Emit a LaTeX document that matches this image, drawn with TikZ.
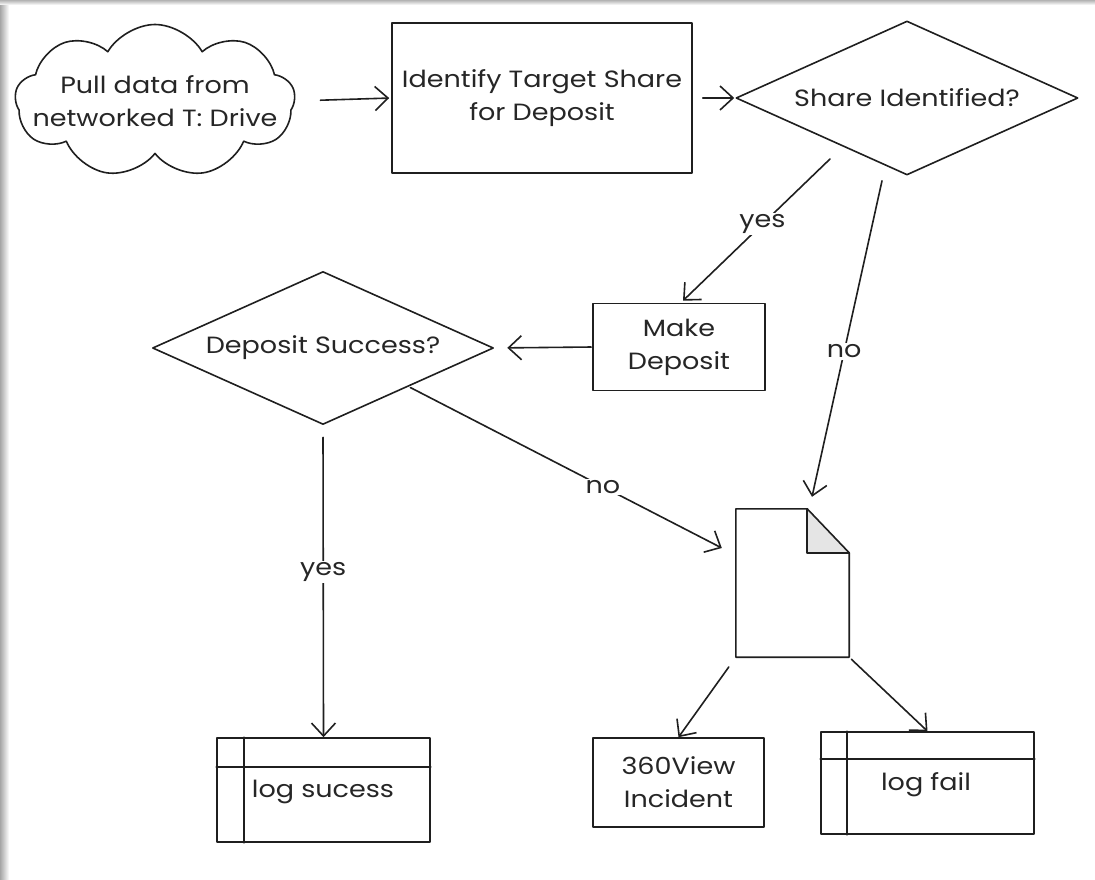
\documentclass[tikz,border=0pt]{standalone}
\usepackage{fontspec}
\setmainfont{Poppins}[FakeStretch=1.15]
\usetikzlibrary{shapes.geometric,shapes.symbols,arrows.meta,calc}

\begin{document}
\begin{tikzpicture}[x=1pt,y=-1pt,
  ink/.style={draw=black!88, line width=1.6pt, line join=round, line cap=round},
  txt/.style={font=\fontsize{23.5}{33}\selectfont, align=center, text=black!85},
  box/.style={ink, rectangle, inner sep=0pt, txt},
  decision/.style={ink, diamond, inner sep=0pt},
  flow/.style={ink, -{Straight Barb[length=13pt,width=24pt,line width=1.6pt]}},
  tag/.style={txt, fill=white, inner sep=1.5pt},
]
% page and frame shadow
\useasboundingbox (0,0) rectangle (1095,880);
\fill[white] (0,0) rectangle (1095,880);
\shade[left color=black!35, right color=white] (0,0) rectangle (9,880);
\shade[top color=black!30, bottom color=white] (0,0) rectangle (1095,5);

% source
\node (src) [ink, cloud, cloud puffs=9, cloud puff arc=120, minimum width=280pt,
  minimum height=153pt, inner sep=0pt,
  label={[name=srctext, txt]center:Pull data from\\networked T: Drive}] at (155,101) {};

% process boxes
\node (ident) [box, minimum width=300pt, minimum height=150pt] at (542,98)
  {Identify Target Share\\for Deposit};
\node (make) [box, minimum width=172pt, minimum height=87pt] at (679,347)
  {Make\\Deposit};
\node (incident) [box, minimum width=171pt, minimum height=89pt] at (678.5,782.5)
  {360View\\Incident};

% decisions
\node (share) [decision, minimum width=342pt, minimum height=154pt,
  label={[name=sharetext, txt]center:Share Identified?}] at (907,98) {};
\node (dep) [decision, minimum width=341pt, minimum height=153pt,
  label={[name=deptext, txt]center:Deposit Success?}] at (323,348) {};

% document with folded corner
\node (doc) [minimum width=113pt, minimum height=148pt, inner sep=0pt] at (792.5,583) {};
\fill[black!10] ($(doc.north east)+(-42,0)$) -- ($(doc.north east)+(0,44)$) -- ($(doc.north east)+(-42,44)$) -- cycle;
\draw[ink] (doc.north west) -- ($(doc.north east)+(-42,0)$) -- ($(doc.north east)+(0,44)$)
  -- (doc.south east) -- (doc.south west) -- cycle;
\draw[ink] ($(doc.north east)+(-42,0)$) -- ($(doc.north east)+(-42,44)$) -- ($(doc.north east)+(0,44)$);

% log tables
\node (logs) [box, minimum width=213pt, minimum height=104pt] at (323.5,790) {};
\node (logstext) [txt] at (323,792) {log sucess};
\draw[ink] ($(logs.north west)+(28,0)$) -- ($(logs.south west)+(28,0)$);
\draw[ink] ($(logs.north west)+(0,30)$) -- ($(logs.north east)+(0,30)$);

\node (logf) [box, minimum width=213pt, minimum height=102pt] at (927.5,783) {};
\node (logftext) [txt] at (926,785) {log fail};
\draw[ink] ($(logf.north west)+(27,0)$) -- ($(logf.south west)+(27,0)$);
\draw[ink] ($(logf.north west)+(0,28)$) -- ($(logf.north east)+(0,28)$);

% connectors
\draw[flow, shorten <=25pt, shorten >=2pt] (src.east) -- (ident.west);
\draw[flow, shorten <=10pt, shorten >=1pt] (ident.east) -- (share.west);
\draw[flow] ($(share.south west)+(9,22)$) -- node[tag, pos=0.46] {yes} ($(make.north)+(4,-2)$);
\draw[flow] ($(share.south)+(-25,5)$) -- node[tag, pos=0.54] {no} ($(doc.north)+(19.5,-12)$);
\draw[flow, shorten <=1pt, shorten >=13pt] (make.west) -- (dep.east);
\draw[flow, shorten <=2pt] (dep.south east) -- node[tag, pos=0.62] {no} ($(doc.west)+(-14,-35)$);
\draw[flow, shorten <=12pt] (dep.south) -- node[tag, pos=0.47] {yes} (logs.north);
\draw[flow, shorten <=12pt] (doc.south west) -- (incident.north);
\draw[flow, shorten <=3pt] (doc.south east) -- (logf.north);
\end{tikzpicture}
\end{document}
